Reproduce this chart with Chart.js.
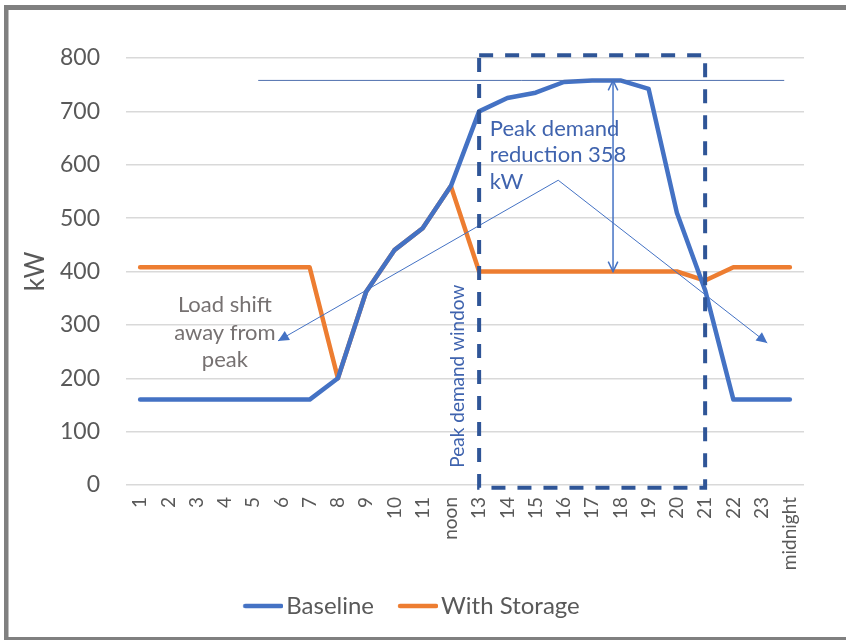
<!DOCTYPE html>
<html>
<head>
<meta charset="utf-8">
<script src="https://cdn.jsdelivr.net/npm/chart.js@4"></script>
<style>
  html, body { margin: 0; padding: 0; background: #ffffff; }
  #wrap { width: 846px; height: 640px; position: relative; }
</style>
</head>
<body>
<div id="wrap"><canvas id="chart" width="846" height="640"></canvas></div>
<script>
// Hourly load profile (kW)
const hours = ['1','2','3','4','5','6','7','8','9','10','11','noon','13','14','15','16','17','18','19','20','21','22','23','midnight'];
const baseline = [160,160,160,160,160,160,160,200,362,440,481,560,700,725,735,755,758,758,742,510,365,160,160,160];
const withStorage = [408,408,408,408,408,408,408,200,362,440,481,560,400,400,400,400,400,400,400,400,383,408,408,408];
const yTicks = [0,100,200,300,400,500,600,700,800];

// Callout values (in axis units: category index, kW)
const peakLevel = 758;
const storageLevel = 400;
const peakLineSpan = [4.18, 22.8];
const windowSpan = [12, 20];
const windowKw = [-5, 805];
const reductionArrowX = 16.74;
const shiftApex = [14.8, 571];
const shiftLeftTip = [4.88, 270];
const shiftRightTip = [22.2, 266];

const FONT = 'Lato, "Open Sans", sans-serif';
const BLUE = '#4472C4';
const ORANGE = '#ED7D31';
const NAVY = '#2F5597';
const TEXT_BLUE = '#3F63AE';
const GREY_TEXT = '#595959';

// Legend swatch: a short rounded line sitting close to its label
function legendSwatch(color) {
  const c = document.createElement('canvas');
  c.width = 48; c.height = 8;
  const g = c.getContext('2d');
  g.strokeStyle = color;
  g.lineWidth = 4.5;
  g.lineCap = 'round';
  g.beginPath();
  g.moveTo(10, 4);
  g.lineTo(46, 4);
  g.stroke();
  return c;
}

function arrowHead(ctx, x0, y0, x1, y1, size, filled) {
  const a = Math.atan2(y1 - y0, x1 - x0);
  const l = [x1 - size * Math.cos(a - 0.45), y1 - size * Math.sin(a - 0.45)];
  const r = [x1 - size * Math.cos(a + 0.45), y1 - size * Math.sin(a + 0.45)];
  ctx.beginPath();
  if (filled) {
    ctx.moveTo(x1, y1); ctx.lineTo(l[0], l[1]); ctx.lineTo(r[0], r[1]); ctx.closePath(); ctx.fill();
  } else {
    ctx.moveTo(l[0], l[1]); ctx.lineTo(x1, y1); ctx.lineTo(r[0], r[1]); ctx.stroke();
  }
}

const callouts = {
  id: 'callouts',
  afterDatasetsDraw(chart) {
    const {ctx, scales: {x, y}} = chart;
    const px = v => x.getPixelForValue(v);
    const py = v => y.getPixelForValue(v);
    ctx.save();

    // peak level reference line
    ctx.strokeStyle = '#4F6FAE';
    ctx.lineWidth = 1;
    ctx.beginPath();
    ctx.moveTo(px(peakLineSpan[0]), py(peakLevel));
    ctx.lineTo(px(peakLineSpan[1]), py(peakLevel));
    ctx.stroke();

    // load shift arrows
    ctx.strokeStyle = BLUE;
    ctx.fillStyle = BLUE;
    ctx.lineWidth = 1;
    ctx.beginPath();
    ctx.moveTo(px(shiftLeftTip[0]), py(shiftLeftTip[1]));
    ctx.lineTo(px(shiftApex[0]), py(shiftApex[1]));
    ctx.lineTo(px(shiftRightTip[0]), py(shiftRightTip[1]));
    ctx.stroke();
    arrowHead(ctx, px(shiftApex[0]), py(shiftApex[1]), px(shiftLeftTip[0]), py(shiftLeftTip[1]), 12, true);
    arrowHead(ctx, px(shiftApex[0]), py(shiftApex[1]), px(shiftRightTip[0]), py(shiftRightTip[1]), 12, true);

    // peak reduction double arrow
    ctx.lineWidth = 1.5;
    const ax = px(reductionArrowX);
    ctx.beginPath();
    ctx.moveTo(ax, py(peakLevel));
    ctx.lineTo(ax, py(storageLevel));
    ctx.stroke();
    arrowHead(ctx, ax, py(storageLevel), ax, py(peakLevel), 11, false);
    arrowHead(ctx, ax, py(peakLevel), ax, py(storageLevel), 11, false);

    // peak demand window
    ctx.strokeStyle = NAVY;
    ctx.lineWidth = 4;
    ctx.setLineDash([14, 12]);
    ctx.strokeRect(px(windowSpan[0]), py(windowKw[1]), px(windowSpan[1]) - px(windowSpan[0]), py(windowKw[0]) - py(windowKw[1]));
    ctx.setLineDash([]);

    // labels
    ctx.fillStyle = TEXT_BLUE;
    ctx.font = '22px ' + FONT;
    ctx.textAlign = 'left';
    ctx.textBaseline = 'middle';
    const tx = px(12.38);
    ['Peak demand', 'reduction 358', 'kW'].forEach((s, i) => ctx.fillText(s, tx, py(668) + i * 26.5));

    ctx.fillStyle = '#767171';
    ctx.textAlign = 'center';
    const lx = px(3.0);
    ['Load shift', 'away from', 'peak'].forEach((s, i) => ctx.fillText(s, lx, py(337) + i * 27.5));

    ctx.save();
    ctx.fillStyle = TEXT_BLUE;
    ctx.font = '19px ' + FONT;
    ctx.translate(px(11.25), py(204));
    ctx.rotate(-Math.PI / 2);
    ctx.fillText('Peak demand window', 0, 0);
    ctx.restore();

    ctx.restore();
  },
  afterDraw(chart) {
    const {ctx} = chart;
    ctx.save();
    ctx.fillStyle = '#808080';
    ctx.fillRect(4, 5, 842, 5);
    ctx.fillRect(4, 5, 4.5, 635);
    ctx.fillRect(4, 637, 842, 3);
    ctx.restore();
  }
};

new Chart(document.getElementById('chart'), {
  type: 'line',
  data: {
    labels: hours,
    datasets: [
      { label: 'Baseline', data: baseline, borderColor: BLUE, backgroundColor: BLUE, borderWidth: 4.5,
        pointRadius: 0, pointStyle: legendSwatch(BLUE), tension: 0, borderCapStyle: 'round', borderJoinStyle: 'round' },
      { label: 'With Storage', data: withStorage, borderColor: ORANGE, backgroundColor: ORANGE, borderWidth: 4.5,
        pointRadius: 0, pointStyle: legendSwatch(ORANGE), tension: 0, borderCapStyle: 'round', borderJoinStyle: 'round' }
    ]
  },
  options: {
    responsive: false,
    animation: false,
    events: [],
    layout: { padding: { top: 58, right: 42, bottom: 12, left: 20 } },
    plugins: {
      tooltip: { enabled: false },
      legend: {
        position: 'bottom',
        labels: {
          usePointStyle: true,
          pointStyleWidth: 30,
          boxHeight: 24,
          padding: 25,
          color: GREY_TEXT,
          font: { family: FONT, size: 24 }
        }
      }
    },
    scales: {
      x: {
        offset: true,
        grid: { display: false, drawTicks: false },
        border: { display: false },
        ticks: {
          autoSkip: false, minRotation: 90, maxRotation: 90, padding: 12,
          color: GREY_TEXT, font: { family: FONT, size: 19 }
        },
        afterFit(scale) { scale.height = 84; }
      },
      y: {
        min: 0, max: 800,
        afterBuildTicks(scale) { scale.ticks = yTicks.map(v => ({ value: v })); },
        grid: { color: '#D9D9D9', lineWidth: 1.5, drawTicks: false },
        border: { display: false },
        ticks: { padding: 26, color: GREY_TEXT, font: { family: FONT, size: 23 } },
        title: { display: true, text: 'kW', color: GREY_TEXT, font: { family: FONT, size: 26 }, padding: { top: 0 } },
        afterFit(scale) { scale.width = 106; }
      }
    }
  },
  plugins: [callouts]
});
</script>
</body>
</html>
